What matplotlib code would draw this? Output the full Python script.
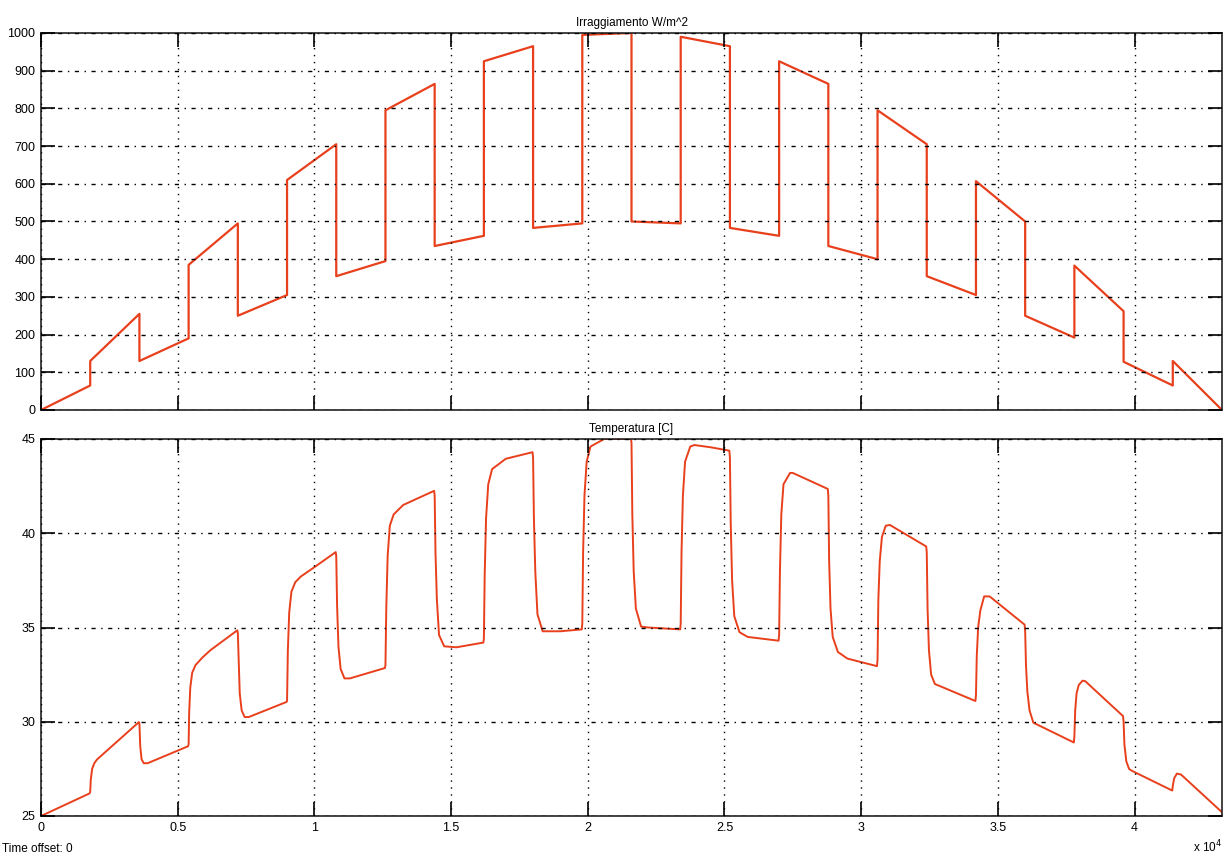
import numpy as np
import matplotlib
matplotlib.use('Agg')
import matplotlib.pyplot as plt

plt.rcParams['font.family'] = ['Liberation Sans', 'DejaVu Sans']

# irradiance: 24 segments of 1800 s, value at start and end of each one
seg_edges = [0, 1800, 3600, 5400, 7200, 9000, 10800, 12600, 14400, 16200, 18000, 19800,
             21600, 23400, 25200, 27000, 28800, 30600, 32400, 34200, 36000, 37800, 39600,
             41400, 43200]
irr_start = [0, 130, 130, 385, 250, 610, 355, 795, 435, 925, 483, 995,
             500, 990, 483, 925, 435, 795, 355, 607, 250, 383, 128, 130]
irr_end = [65, 255, 190, 495, 305, 705, 395, 865, 462, 965, 495, 1000,
           495, 965, 462, 865, 400, 705, 305, 500, 192, 262, 65, 0]

# temperature
temp_t = [0, 1780,
          1800, 1820, 1870, 1950, 2050, 3580,
          3600, 3630, 3680, 3760, 3900, 5380,
          5400, 5420, 5460, 5530, 5650, 5900, 6200, 7180,
          7200, 7230, 7270, 7340, 7450, 7600, 8980,
          9000, 9030, 9080, 9160, 9300, 9500, 10000, 10780,
          10800, 10830, 10880, 10960, 11100, 11300, 12580,
          12600, 12630, 12680, 12760, 12900, 13250, 14380,
          14400, 14430, 14480, 14560, 14750, 15200, 16180,
          16200, 16230, 16280, 16360, 16500, 17000, 17980,
          18000, 18030, 18080, 18160, 18350, 19000, 19780,
          19800, 19830, 19880, 19960, 20100, 20600, 21580,
          21600, 21630, 21680, 21760, 21950, 22200, 23380,
          23400, 23430, 23480, 23560, 23750, 23900, 24500, 25180,
          25200, 25230, 25280, 25360, 25550, 25850, 26980,
          27000, 27030, 27080, 27160, 27400, 27500, 28780,
          28800, 28830, 28880, 28960, 29150, 29500, 30580,
          30600, 30630, 30680, 30760, 30900, 31050, 32380,
          32400, 32430, 32480, 32560, 32700, 32950, 34180,
          34200, 34230, 34280, 34360, 34500, 34700, 35980,
          36000, 36030, 36080, 36160, 36300, 37780,
          37800, 37830, 37880, 37960, 38100, 38200, 39580,
          39600, 39630, 39700, 39800, 39900, 41380,
          41400, 41450, 41550, 41700, 43200]
temp_v = [25.0, 26.2,
          26.3, 26.9, 27.5, 27.8, 28.0, 29.98,
          29.9, 28.7, 28.0, 27.8, 27.8, 28.7,
          28.8, 30.5, 31.8, 32.6, 33.0, 33.4, 33.8, 34.85,
          34.7, 33.3, 31.5, 30.6, 30.25, 30.25, 31.05,
          31.1, 33.8, 35.8, 36.9, 37.4, 37.7, 38.2, 39.0,
          38.8, 36.2, 34.0, 32.8, 32.3, 32.3, 32.85,
          33.0, 36.0, 38.8, 40.4, 41.0, 41.5, 42.25,
          42.0, 39.0, 36.5, 34.6, 34.0, 33.95, 34.2,
          34.4, 37.8, 40.8, 42.6, 43.4, 43.95, 44.3,
          44.0, 40.8, 38.0, 35.7, 34.8, 34.8, 34.9,
          35.2, 39.0, 42.0, 43.8, 44.6, 45.0, 45.0,
          44.8, 41.0, 38.0, 36.0, 35.05, 35.0, 34.9,
          35.2, 39.0, 42.0, 43.8, 44.6, 44.68, 44.56, 44.38,
          44.0, 40.5, 37.5, 35.6, 34.75, 34.5, 34.3,
          34.6, 38.0, 41.0, 42.6, 43.2, 43.2, 42.35,
          42.0, 38.5, 36.0, 34.5, 33.7, 33.35, 32.95,
          33.3, 36.5, 38.5, 39.8, 40.4, 40.44, 39.3,
          39.0, 36.0, 33.8, 32.5, 32.0, 31.85, 31.1,
          31.4, 33.5, 35.0, 35.9, 36.65, 36.65, 35.15,
          34.8, 33.0, 31.6, 30.6, 29.95, 28.9,
          29.2, 30.6, 31.5, 31.95, 32.18, 32.15, 30.3,
          30.0, 28.8, 27.9, 27.5, 27.4, 26.35,
          26.6, 27.0, 27.25, 27.2, 25.2]

x_ticks = [0, 5000, 10000, 15000, 20000, 25000, 30000, 35000, 40000]
x_ticklabels = ['0', '0.5', '1', '1.5', '2', '2.5', '3', '3.5', '4']

# build the sawtooth path from the segment table
irr_t, irr_v = [], []
for i in range(len(irr_start)):
    irr_t += [seg_edges[i], seg_edges[i + 1]]
    irr_v += [irr_start[i], irr_end[i]]

line_col = '#e8401c'

fig = plt.figure(figsize=(12.24, 8.58), dpi=100)
ax1 = fig.add_axes([41/1224, 1 - 410/858, 1181/1224, 377/858])
ax2 = fig.add_axes([41/1224, 1 - 816/858, 1181/1224, 377/858])


def style(ax):
    ax.set_xlim(0, 43200)
    ax.set_xticks(x_ticks)
    ax.tick_params(direction='in', length=10, width=1.2, top=True, right=True,
                   labelsize=9, pad=4, colors='black')
    for s in ax.spines.values():
        s.set_linewidth(1.2)
        s.set_color('#222222')
    ax.xaxis.grid(True, color='black', linestyle=(0, (1, 4)), linewidth=1)
    ax.yaxis.grid(True, color='black', linestyle=(0, (3, 4, 1, 4)), linewidth=1)
    ax.set_axisbelow(False)


ax1.plot(irr_t, irr_v, color=line_col, linewidth=1.6)
ax1.set_ylim(0, 1000)
ax1.set_yticks(range(0, 1001, 100))
style(ax1)
ax1.set_xticklabels([])
ax1.set_title('Irraggiamento W/m^2', fontsize=8.5, pad=5)

ax2.plot(temp_t, temp_v, color=line_col, linewidth=1.4)
ax2.set_ylim(25, 45)
ax2.set_yticks([25, 30, 35, 40, 45])
style(ax2)
ax2.set_xticklabels(x_ticklabels)
ax2.set_title('Temperatura [C]', fontsize=8.5, pad=5)

fig.text(2/1224, 1 - 852/858, 'Time offset: 0', fontsize=8.5, va='baseline')
fig.text(1193/1224, 1 - 852/858, r'x 10$^4$', fontsize=8.5, va='baseline')

fig.savefig('out.png', dpi=100)
